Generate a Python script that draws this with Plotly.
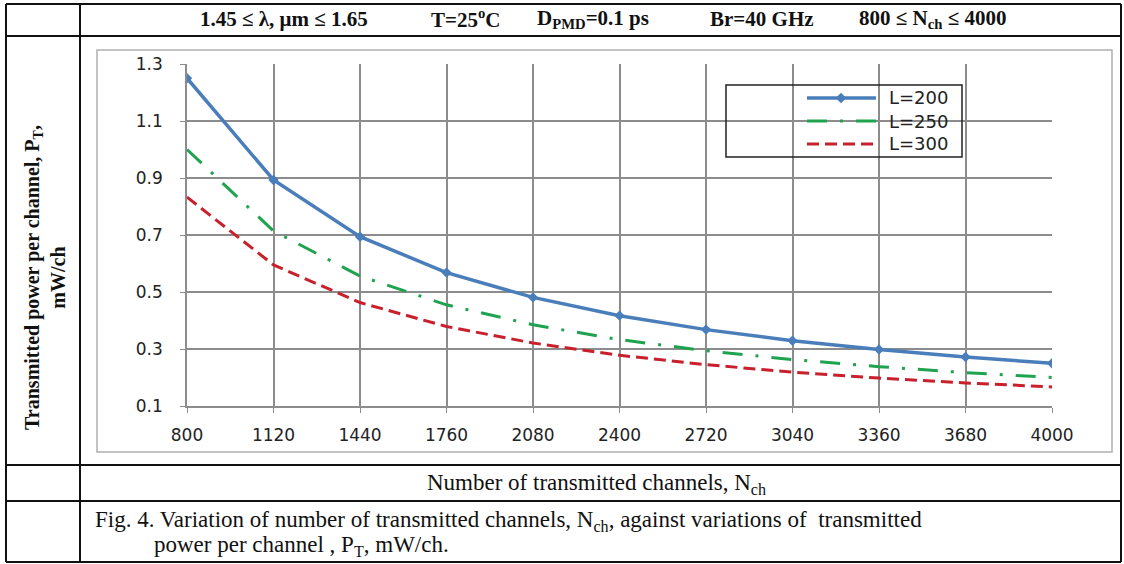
import plotly.graph_objects as go

W, H = 1124, 564

channels = [800, 1120, 1440, 1760, 2080, 2400, 2720, 3040, 3360, 3680, 4000]
p_L200 = [1.25, 0.893, 0.694, 0.568, 0.481, 0.417, 0.368, 0.329, 0.298, 0.272, 0.25]
p_L250 = [1.0, 0.714, 0.556, 0.455, 0.385, 0.333, 0.294, 0.263, 0.238, 0.217, 0.2]
p_L300 = [0.833, 0.595, 0.463, 0.379, 0.321, 0.278, 0.245, 0.219, 0.198, 0.181, 0.167]
y_ticks = [0.1, 0.3, 0.5, 0.7, 0.9, 1.1, 1.3]
series_names = ["L=200", "L=250", "L=300"]


def px(x):
    return x / W


def py(y):
    return 1 - y / H


styles = [
    dict(line=dict(color="#4a7ebb", width=3.5), mode="lines+markers",
         marker=dict(symbol="diamond", size=8, color="#4a7ebb")),
    dict(line=dict(color="#1fa34f", width=3, dash="20px,13px,3px,13px"), mode="lines"),
    dict(line=dict(color="#c8202c", width=3, dash="12px,6px"), mode="lines"),
]

fig = go.Figure()
for name, vals, st in zip(series_names, [p_L200, p_L250, p_L300], styles):
    fig.add_trace(go.Scatter(x=channels, y=vals, name=name, showlegend=False, **st))

# legend drawn on a page-pixel overlay axis
leg_y = [98, 121, 144]
sans = "DejaVu Sans, Verdana, sans-serif"
for name, yy, st in zip(series_names, leg_y, styles):
    fig.add_trace(go.Scatter(x=[807, 841, 876], y=[yy, yy, yy], xaxis="x2", yaxis="y2",
                             showlegend=False, hoverinfo="skip",
                             line=st["line"], mode=st["mode"],
                             marker=dict(symbol="diamond", size=8, color="#4a7ebb",
                                         opacity=[0, 1, 0]) if "marker" in st else None))

shapes = []
shapes.append(dict(type="rect", xref="paper", yref="paper", x0=px(97), x1=px(1112),
                   y0=py(452), y1=py(50), line=dict(color="#b0b0b0", width=1.5)))
shapes.append(dict(type="rect", xref="paper", yref="paper", x0=px(726), x1=px(962),
                   y0=py(157), y1=py(85), line=dict(color="#222", width=1.5)))
blk = dict(color="#111", width=2)
for yy in [4, 36, 465, 501, 562]:
    shapes.append(dict(type="line", xref="paper", yref="paper", x0=px(6), x1=px(1121),
                       y0=py(yy), y1=py(yy), line=blk))
for xx in [6, 80, 1121]:
    shapes.append(dict(type="line", xref="paper", yref="paper", x0=px(xx), x1=px(xx),
                       y0=py(4), y1=py(562), line=blk))

serif = "Liberation Serif, Times New Roman, serif"


def ann(text, x, y, size, xanchor="center", angle=0):
    return dict(text=text, x=px(x), y=py(y), xref="paper", yref="paper", showarrow=False,
                xanchor=xanchor, yanchor="middle", textangle=angle,
                font=dict(family=serif, size=size, color="#111"))


annotations = [
    ann("<b>1.45 ≤ λ, μm ≤ 1.65</b>", 284, 19, 21),
    ann("<b>T=25<sup>o</sup>C</b>", 466, 19, 21),
    ann("<b>D<sub>PMD</sub>=0.1 ps</b>", 593, 19, 21),
    ann("<b>Br=40 GHz</b>", 762, 19, 21),
    ann("<b>800 ≤ N<sub>ch</sub> ≤ 4000</b>", 932, 19, 21),
    ann("<b>Transmitted power per channel, P<sub>T</sub>,<br>mW/ch</b>", 45, 278, 20, angle=-90),
    ann("Number of transmitted channels, N<sub>ch</sub>", 596, 484, 23),
    ann("Fig. 4. Variation of number of transmitted channels, N<sub>ch</sub>, against variations of&nbsp;&nbsp;transmitted",
        93, 521, 23, xanchor="left"),
    ann("power per channel , P<sub>T</sub>, mW/ch.", 152, 546, 23, xanchor="left"),
]
for name, yy in zip(series_names, leg_y):
    annotations.append(dict(text=name, x=px(887), y=py(yy), xref="paper", yref="paper",
                            showarrow=False, xanchor="left", yanchor="middle",
                            font=dict(family=sans, size=18, color="#222")))

fig.update_layout(
    width=W, height=H, margin=dict(l=0, r=0, t=0, b=0, pad=0, autoexpand=False),
    paper_bgcolor="white", plot_bgcolor="rgba(0,0,0,0)",
    shapes=shapes, annotations=annotations,
    showlegend=False,
    xaxis=dict(domain=[px(187), px(1052)], range=[800, 4000], tickvals=channels,
               showgrid=True, gridcolor="#8c8c8c", gridwidth=1.5,
               showline=True, linecolor="#8c8c8c", linewidth=1.5,
               ticks="outside", ticklen=5, tickcolor="#8c8c8c", zeroline=False,
               ticklabelstandoff=8, automargin=False,
               tickfont=dict(family=sans, size=17, color="#222")),
    yaxis=dict(domain=[py(406), py(64)], range=[0.1, 1.3], tickvals=y_ticks,
               tickformat=".1f",
               showgrid=True, gridcolor="#8c8c8c", gridwidth=1.5,
               showline=True, linecolor="#8c8c8c", linewidth=1.5,
               ticks="outside", ticklen=5, tickcolor="#8c8c8c", zeroline=False,
               ticklabelstandoff=14, automargin=False,
               tickfont=dict(family=sans, size=17, color="#222")),
    xaxis2=dict(domain=[0, 1], range=[0, W], visible=False, fixedrange=True, anchor="y2",
                automargin=False),
    yaxis2=dict(domain=[0, 1], range=[H, 0], visible=False, fixedrange=True, anchor="x2",
                automargin=False),
)

sync_css = ("}); document.body.style.margin='0'; document.body.style.overflow='hidden'; "
            "Promise.resolve().then(function(){")

fig.write_html("out.html", post_script=sync_css)
